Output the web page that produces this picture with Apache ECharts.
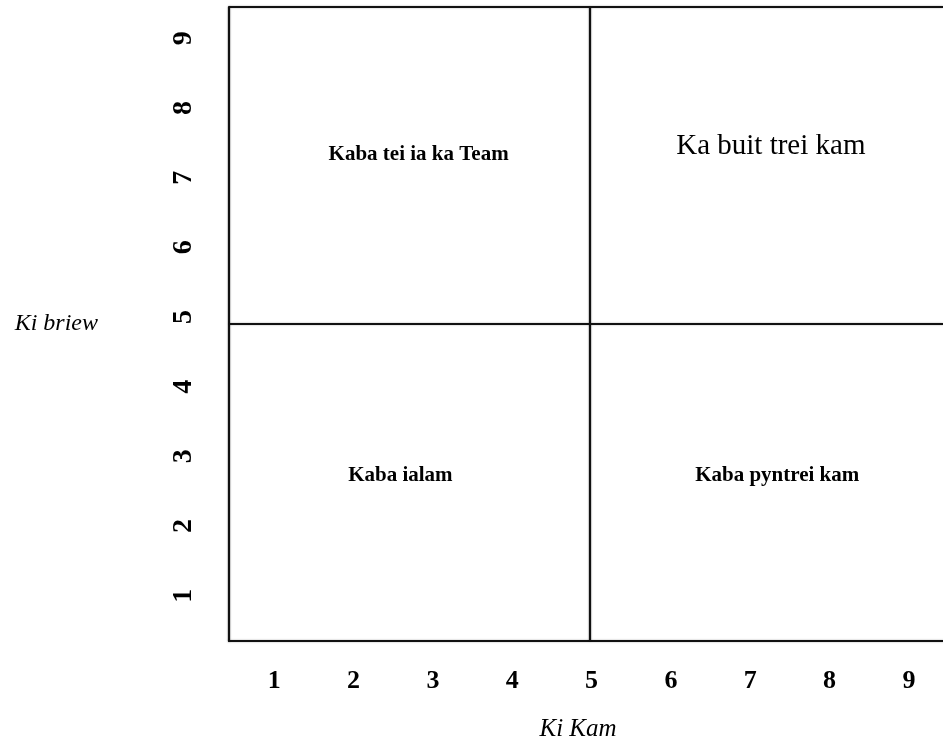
<!DOCTYPE html>
<html>
<head>
<meta charset="utf-8">
<script src="https://cdn.jsdelivr.net/npm/echarts@6/dist/echarts.min.js"></script>
<style>
html,body{margin:0;padding:0;background:#fff;}
#main{width:943px;height:742px;}
</style>
</head>
<body>
<div id="main"></div>
<script>
// Axis ranges
const xRange = [0.43, 9.43];
const yRange = [0.35, 9.45];
// Tick labels
const xTicks = [1, 2, 3, 4, 5, 6, 7, 8, 9];
const yTicks = [1, 2, 3, 4, 5, 6, 7, 8, 9];
// Quadrant dividers
const dividerX = 4.98;
const dividerY = 4.9;
// Quadrant texts
const quadrantTexts = ['Kaba tei ia ka Team', 'Ka buit trei kam', 'Kaba ialam', 'Kaba pyntrei kam'];
const quadrantX = [2.82, 7.26, 2.59, 7.34];
const quadrantY = [7.33, 7.45, 2.73, 2.73];
const quadrantBold = [true, false, true, true];
const quadrantSize = [21, 29, 21, 21];

const lineStyle = { color: '#111', width: 2.2, type: 'solid', shadowColor: 'rgba(0,0,0,0.35)', shadowBlur: 2 };

const chart = echarts.init(document.getElementById('main'));
chart.setOption({
  animation: false,
  backgroundColor: '#fff',
  grid: { left: 229, top: 7, right: 0, bottom: 101, containLabel: false, outerBoundsMode: 'none' },
  xAxis: {
    type: 'value', min: xRange[0], max: xRange[1],
    splitLine: { show: false },
    axisLine: { show: true, onZero: false, lineStyle: lineStyle },
    axisTick: { show: false },
    axisLabel: {
      customValues: xTicks,
      margin: 27,
      fontFamily: 'Liberation Serif', fontWeight: 'bold', fontSize: 26, color: '#000'
    },
    name: 'Ki Kam', nameLocation: 'middle', nameGap: 76, nameMoveOverlap: false,
    nameTextStyle: { fontFamily: 'Liberation Serif', fontStyle: 'italic', fontSize: 25, color: '#000', padding: [0, 16, 0, 0] }
  },
  yAxis: {
    type: 'value', min: yRange[0], max: yRange[1],
    splitLine: { show: false },
    axisLine: { show: true, onZero: false, lineStyle: lineStyle },
    axisTick: { show: false },
    axisLabel: {
      customValues: yTicks,
      rotate: 90,
      margin: 31,
      fontFamily: 'Liberation Serif', fontWeight: 'bold', fontSize: 28, color: '#000'
    },
    name: 'Ki briew', nameLocation: 'middle', nameRotate: 0, nameGap: 131, nameMoveOverlap: false,
    nameTextStyle: { fontFamily: 'Liberation Serif', fontStyle: 'italic', fontSize: 24, color: '#000' }
  },
  series: [
    {
      type: 'scatter',
      symbolSize: 0,
      silent: true,
      itemStyle: { opacity: 1 },
      data: quadrantTexts.map((t, i) => ({
        value: [quadrantX[i], quadrantY[i]],
        label: {
          show: true, position: 'inside', formatter: t,
          fontFamily: 'Liberation Serif',
          fontWeight: quadrantBold[i] ? 'bold' : 'normal',
          fontSize: quadrantSize[i], color: '#000', opacity: 1
        }
      })),
      markLine: {
        silent: true,
        symbol: ['none', 'none'],
        label: { show: false },
        lineStyle: lineStyle,
        data: [
          { xAxis: dividerX },
          { yAxis: dividerY },
          { yAxis: yRange[1] }
        ]
      }
    }
  ]
});
</script>
</body>
</html>
